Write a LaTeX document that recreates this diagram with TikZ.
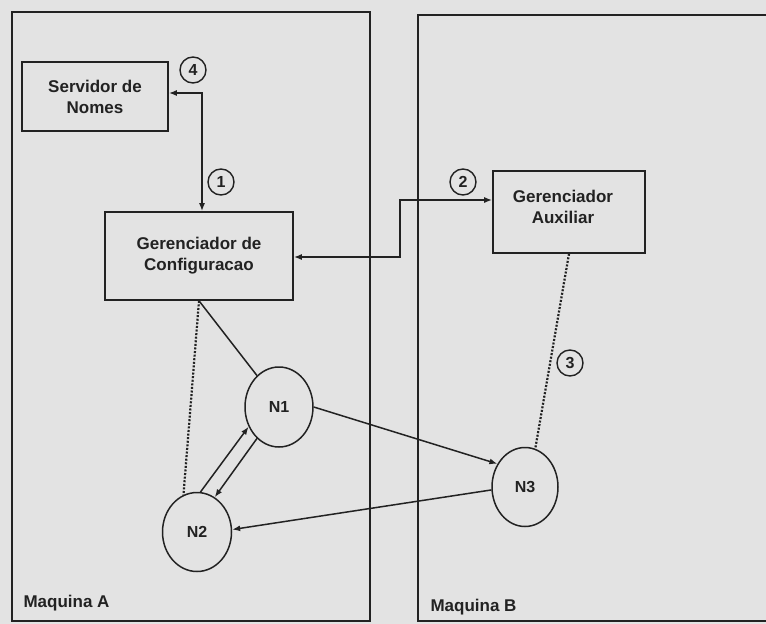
\documentclass[tikz,border=0pt]{standalone}
\usepackage{fontspec}
\setmainfont{Liberation Sans}
\usetikzlibrary{shapes.geometric,arrows.meta}
\definecolor{bg}{HTML}{E3E3E3}
\definecolor{ink}{HTML}{222222}
\tikzset{
  box/.style={draw=ink, line width=1.6pt, rectangle, inner sep=0pt, align=center},
  proc/.style={draw=ink, line width=1.5pt, ellipse, inner sep=0pt, font=\bfseries\fontsize{16}{18}\selectfont, text=ink},
  num/.style={draw=ink, line width=1.4pt, circle, minimum size=26pt, inner sep=0pt, font=\bfseries\fontsize{16}{16}\selectfont, text=ink},
  lbl/.style={font=\bfseries\fontsize{17}{21}\selectfont, align=center, text=ink},
  conn/.style={draw=ink, line width=1.5pt},
  tip/.style={-{Latex[length=8pt,width=6pt]}},
  dots/.style={draw=ink, line width=2.2pt, dash pattern=on 2pt off 1.6pt},
  machine/.style={draw=ink, line width=1.7pt}
}
\begin{document}
\begin{tikzpicture}[x=1pt,y=-1pt]
\fill[bg] (0,0) rectangle (766,624);
\useasboundingbox (0,0) rectangle (766,624);
% machines
\draw[machine] (12,12) rectangle (370,621);
\draw[machine] (766,15) -- (418,15) -- (418,621) -- (766,621);
\node[lbl, anchor=base west] (ma) at (20,607) {Maquina A};
\node[lbl, anchor=base west] (mb) at (427,611) {Maquina B};
% boxes
\node[box, minimum width=146pt, minimum height=69pt, lbl] (serv) at (95,96.5) {Servidor de\\Nomes};
\node[box, minimum width=188pt, minimum height=88pt, lbl] (conf) at (199,256) {Gerenciador de\\Configuracao};
\node[box, minimum width=152pt, minimum height=82pt] (aux) at (569,212) {};
\node[lbl] (auxt) at (563,207) {Gerenciador\\Auxiliar};
% processes
\node[proc, minimum width=68pt, minimum height=80pt] (n1) at (279,407) {N1};
\node[proc, minimum width=69pt, minimum height=79pt] (n2) at (197,532) {N2};
\node[proc, minimum width=66pt, minimum height=79pt] (n3) at (525,487) {N3};
% numbers
\node[num] (c4) at (193,70) {4};
\node[num] (c1) at (221,182) {1};
\node[num] (c2) at (463,182) {2};
\node[num] (c3) at (570,363) {3};
% connectors
\coordinate (k4) at (202,93);
\draw[conn, {Latex[length=8pt,width=6pt]}-{Latex[length=8pt,width=6pt]}] (serv.east |- k4) -- (k4) -- (conf.north -| k4);
\coordinate (k1) at (400,257);
\coordinate (k2) at (400,200);
\draw[conn, {Latex[length=8pt,width=6pt]}-{Latex[length=8pt,width=6pt]}] (conf.east |- k1) -- (k1) -- (k2) -- (aux.west |- k2);
\draw[conn] (conf.south) -- (n1.125);
\draw[dots] (conf.south) -- (n2.110);
\draw[dots] (aux.south) -- (n3.75);
\draw[conn, tip] (n1.east) -- (n3.140);
\draw[conn, tip] (n3.185) -- (n2.4);
\draw[conn, tip] (n2.85) -- (n1.213);
\draw[conn, tip] (n1.235) -- (n2.63);
\end{tikzpicture}
\end{document}
